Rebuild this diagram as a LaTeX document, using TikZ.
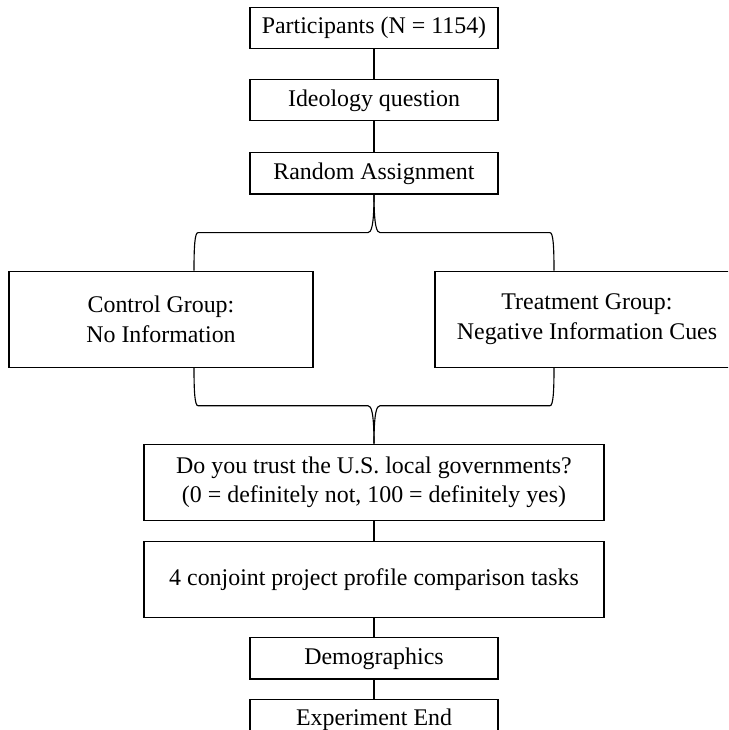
\documentclass[tikz,border=0pt]{standalone}
\usepackage{fontspec}
\setmainfont{Liberation Serif}
\usetikzlibrary{positioning, calc}

\begin{document}
\begin{tikzpicture}[
    node distance=0.75cm,
    box/.style={draw, rectangle, minimum width=6.2cm, minimum height=1.03cm, align=center, font=\fontsize{17}{21}\selectfont, line width=0.8pt},
    groupbox/.style={box, minimum width=7.6cm, minimum height=2.4cm},
    widebox/.style={box, minimum width=11.5cm, minimum height=1.9cm},
    link/.style={line width=0.8pt}
]
    % Page frame
    \useasboundingbox (-9.35,0.7) rectangle (8.85,-17.55);
    \clip (-9.35,0.7) rectangle (8.85,-17.55);

    % Intake
    \node[box] (part) {Participants (N = 1154)};
    \node[box, below=of part] (ideo) {Ideology question};
    \node[box, below=0.77cm of ideo] (rand) {Random Assignment};

    % Groups
    \node[groupbox, below=1.9cm of rand, xshift=-5.325cm] (ctrl) {Control Group:\\No Information};
    \node[groupbox, below=1.9cm of rand, xshift=5.325cm] (treat) {Treatment Group:\\Negative Information Cues};

    % Outcome
    \coordinate (mid) at (ctrl.south -| rand.south);
    \node[widebox, below=1.9cm of mid] (trust) {Do you trust the U.S. local governments?\\(0 = definitely not, 100 = definitely yes)};
    \node[widebox, below=0.5cm of trust] (conj) {4 conjoint project profile comparison tasks};
    \node[box, below=0.48cm of conj] (demo) {Demographics};
    \node[box, below=0.48cm of demo] (fin) {Experiment End};

    % Brace ends
    \coordinate (ctrlin) at ([xshift=0.825cm]ctrl.north);
    \coordinate (treatin) at ([xshift=-0.825cm]treat.north);
    \coordinate (ctrlout) at ([xshift=0.825cm]ctrl.south);
    \coordinate (treatout) at ([xshift=-0.825cm]treat.south);

    % Connections
    \draw[link] (part) -- (ideo);
    \draw[link] (ideo) -- (rand);
    \draw[link] (rand.south) .. controls +(0,-0.8) and +(0.08,0) .. ++(-0.15,-0.95) -- ([xshift=0.1cm, yshift=0.95cm]ctrlin) .. controls +(-0.08,0) and +(0,0.6) .. (ctrlin);
    \draw[link] (rand.south) .. controls +(0,-0.8) and +(-0.08,0) .. ++(0.15,-0.95) -- ([xshift=-0.1cm, yshift=0.95cm]treatin) .. controls +(0.08,0) and +(0,0.6) .. (treatin);
    \draw[link] (ctrlout) .. controls +(0,-0.6) and +(-0.08,0) .. ++(0.1,-0.95) -- ([xshift=-0.15cm, yshift=0.95cm]trust.north) .. controls +(0.08,0) and +(0,0.8) .. (trust.north);
    \draw[link] (treatout) .. controls +(0,-0.6) and +(0.08,0) .. ++(-0.1,-0.95) -- ([xshift=0.15cm, yshift=0.95cm]trust.north) .. controls +(-0.08,0) and +(0,0.8) .. (trust.north);
    \draw[link] (trust) -- (conj);
    \draw[link] (conj) -- (demo);
    \draw[link] (demo) -- (fin);
\end{tikzpicture}
\end{document}
